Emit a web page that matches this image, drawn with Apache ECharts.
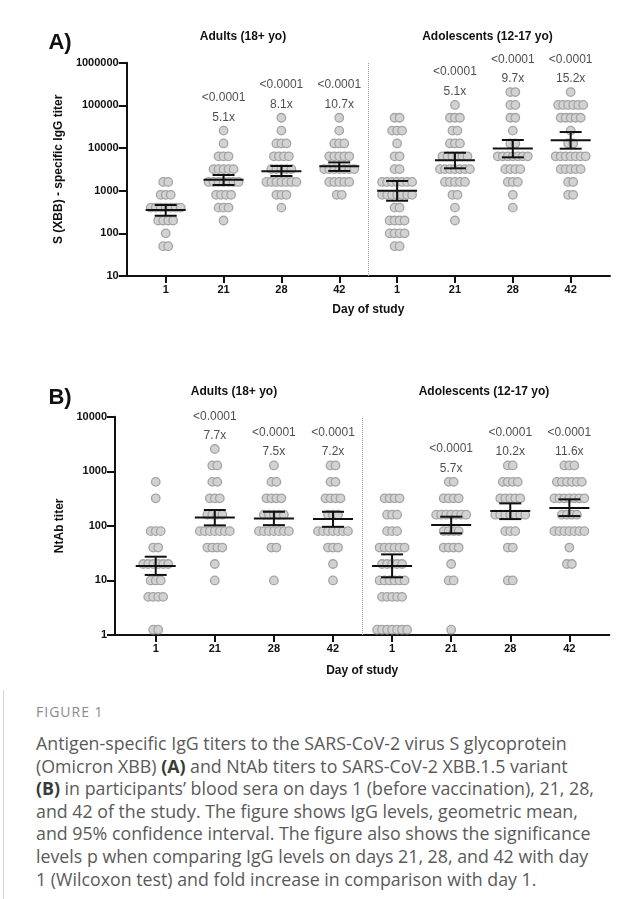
<!DOCTYPE html>
<html>
<head>
<meta charset="utf-8">
<script src="https://cdn.jsdelivr.net/npm/echarts@6/dist/echarts.min.js"></script>
<style>
html,body{margin:0;padding:0;background:#fff;}
#chart{position:absolute;left:0;top:0;width:643px;height:690px;}
#cap{position:absolute;left:0;top:690px;width:643px;height:209px;}
#cap .border{position:absolute;left:3px;top:0;width:1px;height:209px;background:#d6d6d6;}
#cap .fig{position:absolute;left:36px;top:12px;font-family:"Open Sans",Lato,sans-serif;font-size:14px;letter-spacing:1px;color:#8a8a8a;}
#cap .txt{position:absolute;left:36px;top:42px;font-family:"Open Sans",Lato,sans-serif;font-size:17.8px;line-height:22.6px;color:#5a5a5a;white-space:nowrap;}
#cap .txt b{color:#3a3a3a;}
</style>
</head>
<body>
<div id="chart"></div>
<div id="cap">
  <div class="border"></div>
  <div class="fig">FIGURE 1</div>
  <div class="txt">Antigen-specific IgG titers to the SARS-CoV-2 virus S glycoprotein<br>(Omicron XBB) <b>(A)</b> and NtAb titers to SARS-CoV-2 XBB.1.5 variant<br><b>(B)</b> in participants’ blood sera on days 1 (before vaccination), 21, 28,<br>and 42 of the study. The figure shows IgG levels, geometric mean,<br>and 95% confidence interval. The figure also shows the significance<br>levels p when comparing IgG levels on days 21, 28, and 42 with day<br>1 (Wilcoxon test) and fold increase in comparison with day 1.</div>
</div>
<script>
// ---------- DATA ----------
const dayLabels = ['1', '21', '28', '42', '1', '21', '28', '42'];
const groupTitles = ['Adults (18+ yo)', 'Adolescents (12-17 yo)'];

// Panel A: S (XBB)-specific IgG titer, rows of [titer, number of participants]
const igAdult1  = [[1600,2],[800,3],[400,7],[200,4],[100,1],[50,2]];
const igAdult21 = [[25600,1],[12800,1],[6400,3],[3200,5],[1600,7],[800,4],[400,3],[200,1]];
const igAdult28 = [[51200,1],[25600,1],[12800,3],[6400,4],[3200,5],[1600,7],[800,3],[400,1]];
const igAdult42 = [[51200,1],[25600,1],[12800,3],[6400,5],[3200,7],[1600,5],[800,2]];
const igTeen1   = [[51200,2],[25600,3],[12800,1],[6400,2],[3200,2],[1600,7],[800,7],[400,2],[200,4],[100,4],[50,2]];
const igTeen21  = [[102400,1],[51200,3],[25600,2],[12800,3],[6400,6],[3200,7],[1600,5],[800,2],[400,1],[200,1]];
const igTeen28  = [[204800,2],[102400,2],[51200,2],[25600,1],[12800,2],[6400,7],[3200,4],[1600,3],[800,1],[400,1]];
const igTeen42  = [[204800,1],[102400,6],[51200,5],[25600,1],[12800,2],[6400,7],[3200,5],[1600,2],[800,2]];
const igMean = [352, 1800, 2850, 3750, 1000, 5200, 9700, 15200];
const igLow  = [259, 1360, 2210, 2900, 582, 3350, 6050, 9640];
const igHigh = [461, 2330, 3785, 4600, 1690, 7770, 15400, 23700];
const igP    = ['', '<0.0001', '<0.0001', '<0.0001', '', '<0.0001', '<0.0001', '<0.0001'];
const igFold = ['', '5.1x', '8.1x', '10.7x', '', '5.1x', '9.7x', '15.2x'];

// Panel B: NtAb titer
const ntAdult1  = [[640,1],[320,1],[80,3],[40,2],[20,6],[10,3],[5,4],[1.25,2]];
const ntAdult21 = [[2560,1],[1280,2],[640,2],[320,3],[160,4],[80,7],[40,4],[20,1],[10,1]];
const ntAdult28 = [[1280,1],[640,2],[320,4],[160,5],[80,7],[40,2],[10,1]];
const ntAdult42 = [[1280,2],[640,2],[320,4],[160,3],[80,7],[40,3],[20,1],[10,1]];
const ntTeen1   = [[320,4],[160,3],[80,3],[40,6],[20,5],[10,6],[5,5],[1.25,7]];
const ntTeen21  = [[640,2],[320,4],[160,7],[80,4],[40,4],[20,1],[10,2],[1.25,1]];
const ntTeen28  = [[1280,2],[640,4],[320,5],[160,7],[80,3],[40,2],[10,2]];
const ntTeen42  = [[1280,3],[640,6],[320,7],[160,4],[80,7],[40,1],[20,2]];
const ntMean = [18.4, 142, 137, 133, 18.4, 104, 187, 213];
const ntLow  = [12.6, 102, 103, 96, 11.4, 73, 133, 151];
const ntHigh = [27.2, 195, 181, 181, 30, 147, 258, 306];
const ntP    = ['', '<0.0001', '<0.0001', '<0.0001', '', '<0.0001', '<0.0001', '<0.0001'];
const ntFold = ['', '7.7x', '7.5x', '7.2x', '', '5.7x', '10.2x', '11.6x'];

// ---------- BUILD ----------
const igDots = [igAdult1, igAdult21, igAdult28, igAdult42, igTeen1, igTeen21, igTeen28, igTeen42];
const ntDots = [ntAdult1, ntAdult21, ntAdult28, ntAdult42, ntTeen1, ntTeen21, ntTeen28, ntTeen42];

const FONT = '"Liberation Sans", Arial, sans-serif';
const INK = '#111';
const DOT_GAP = 5;

function swarm(cols) {
  const out = [];
  cols.forEach((rows, c) => rows.forEach(([v, n]) => {
    for (let i = 0; i < n; i++) out.push({ value: [c, v], symbolOffset: [(i - (n - 1) / 2) * DOT_GAP, 0] });
  }));
  return out;
}
function bars(mean, low, high) {
  return mean.map((m, c) => [c, m, low[c], high[c]]);
}
function notes(cols, pArr, foldArr) {
  const out = [];
  cols.forEach((rows, c) => {
    if (!foldArr[c]) return;
    out.push({ value: [c, Math.max(...rows.map(r => r[0]))], txt: '{t|' + pArr[c] + '}\n{t|' + foldArr[c] + '}' });
  });
  return out;
}
const cats = dayLabels.map((_, i) => i);

function xAxisCfg(gi, min, max, gap) {
  return {
    gridIndex: gi, type: 'value', min: min, max: max,
    name: 'Day of study', nameLocation: 'middle', nameGap: gap,
    nameTextStyle: { fontFamily: FONT, fontWeight: 'bold', fontSize: 12, color: INK },
    axisLine: { show: true, onZero: false, lineStyle: { color: INK, width: 2 } },
    axisTick: { show: true, length: 7, customValues: cats, lineStyle: { color: INK, width: 2 } },
    axisLabel: { customValues: cats, formatter: v => dayLabels[Math.round(v)], margin: 8,
      fontFamily: FONT, fontWeight: 'bold', fontSize: 11, color: INK },
    splitLine: { show: false }
  };
}
function yAxisCfg(gi, min, max, name, gap) {
  return {
    gridIndex: gi, type: 'log', logBase: 10, min: min, max: max,
    name: name, nameLocation: 'middle', nameGap: gap,
    nameTextStyle: { fontFamily: FONT, fontWeight: 'bold', fontSize: 12, color: INK },
    axisLine: { show: true, onZero: false, lineStyle: { color: INK, width: 2 } },
    axisTick: { show: true, length: 8, lineStyle: { color: INK, width: 2 } },
    minorTick: { show: false },
    axisLabel: { formatter: v => String(Math.round(v)), margin: 8,
      fontFamily: FONT, fontWeight: 'bold', fontSize: 11, color: INK },
    splitLine: { show: false }
  };
}
function dotSeries(gi, cols) {
  return {
    type: 'scatter', xAxisIndex: gi, yAxisIndex: gi, silent: true,
    symbol: 'circle', symbolSize: 8.5,
    itemStyle: { color: '#d2d2d2', borderColor: '#a4a4a4', borderWidth: 1.3, opacity: 1 },
    data: swarm(cols),
    markLine: {
      silent: true, symbol: ['none', 'none'], label: { show: false },
      lineStyle: { type: 'dotted', color: '#9a9a9a', width: 1 },
      data: [{ xAxis: 3.5 }]
    }
  };
}
function barSeries(gi, data) {
  return {
    type: 'custom', xAxisIndex: gi, yAxisIndex: gi, silent: true, z: 5,
    encode: { x: 0, y: [1, 2, 3] },
    data: data,
    renderItem: function (params, api) {
      const pm = api.coord([api.value(0), api.value(1)]);
      const pl = api.coord([api.value(0), api.value(2)]);
      const ph = api.coord([api.value(0), api.value(3)]);
      const st = { stroke: INK, lineWidth: 2 };
      const x = pm[0];
      return { type: 'group', children: [
        { type: 'line', shape: { x1: x, y1: pl[1], x2: x, y2: ph[1] }, style: st },
        { type: 'line', shape: { x1: x - 11, y1: pl[1], x2: x + 11, y2: pl[1] }, style: st },
        { type: 'line', shape: { x1: x - 11, y1: ph[1], x2: x + 11, y2: ph[1] }, style: st },
        { type: 'line', shape: { x1: x - 20, y1: pm[1], x2: x + 20, y2: pm[1] }, style: st }
      ] };
    }
  };
}
function noteSeries(gi, data) {
  return {
    type: 'scatter', xAxisIndex: gi, yAxisIndex: gi, silent: true,
    symbol: 'circle', symbolSize: 1, itemStyle: { color: 'rgba(0,0,0,0)' },
    data: data,
    label: { show: true, position: 'top', distance: 3,
      formatter: p => p.data.txt,
      rich: { t: { fontFamily: FONT, fontSize: 12, lineHeight: 19.5, color: '#222', align: 'center' } } }
  };
}
function txt(x, y, s, font) {
  return { type: 'text', x: x, y: y, silent: true,
    style: { text: s, font: font, fill: INK, align: 'center', verticalAlign: 'middle' } };
}

const chart = echarts.init(document.getElementById('chart'), null, { renderer: 'canvas' });
chart.setOption({
  animation: false,
  backgroundColor: '#fff',
  grid: [
    { left: 126.7, top: 62.7, width: 483.3, height: 213.3 },
    { left: 115, top: 416.7, width: 494.3, height: 218.3 }
  ],
  xAxis: [xAxisCfg(0, -0.674, 7.68, 28), xAxisCfg(1, -0.689, 7.676, 30)],
  yAxis: [yAxisCfg(0, 10, 1000000, 'S (XBB) - specific IgG titer', 56),
          yAxisCfg(1, 1, 10000, 'NtAb titer', 46)],
  graphic: [
    txt(60, 43, 'A)', 'bold 22px ' + FONT),
    txt(60, 398, 'B)', 'bold 22px ' + FONT),
    txt(243, 37, groupTitles[0], 'bold 12px ' + FONT),
    txt(487.5, 37, groupTitles[1], 'bold 12px ' + FONT),
    txt(234, 392, groupTitles[0], 'bold 12px ' + FONT),
    txt(484, 392, groupTitles[1], 'bold 12px ' + FONT)
  ],
  series: [
    dotSeries(0, igDots), barSeries(0, bars(igMean, igLow, igHigh)), noteSeries(0, notes(igDots, igP, igFold)),
    dotSeries(1, ntDots), barSeries(1, bars(ntMean, ntLow, ntHigh)), noteSeries(1, notes(ntDots, ntP, ntFold))
  ]
});
</script>
</body>
</html>
